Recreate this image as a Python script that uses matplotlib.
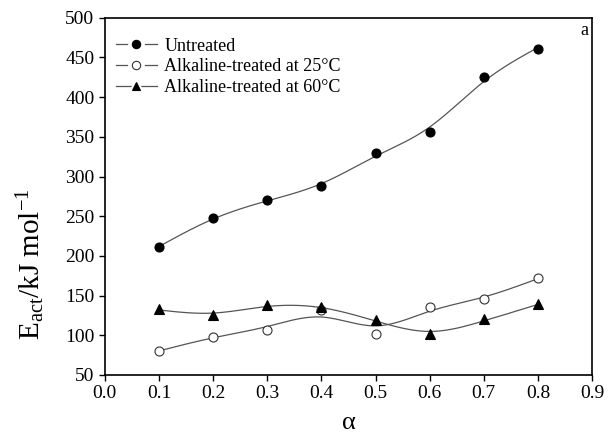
import numpy as np
import matplotlib.pyplot as plt
from matplotlib.lines import Line2D

plt.rcParams['font.family'] = ['Liberation Serif', 'DejaVu Serif']
plt.rcParams['mathtext.fontset'] = 'custom'
plt.rcParams['mathtext.rm'] = 'Liberation Serif'
plt.rcParams['mathtext.it'] = 'Liberation Serif'

alpha = [0.1, 0.2, 0.3, 0.4, 0.5, 0.6, 0.7, 0.8]
untreated = [211, 248, 270, 288, 330, 356, 425, 461]
treated_25 = [80, 98, 107, 132, 102, 136, 146, 172]
treated_60 = [133, 125, 138, 136, 119, 101, 120, 139]


def smooth_spline(x, y, lam):
    # Reinsch smoothing spline (natural cubic), evaluated on a fine grid
    x = np.asarray(x, float)
    y = np.asarray(y, float)
    n = len(x)
    h = np.diff(x)
    Q = np.zeros((n, n - 2))
    R = np.zeros((n - 2, n - 2))
    for j in range(1, n - 1):
        Q[j - 1, j - 1] = 1 / h[j - 1]
        Q[j, j - 1] = -1 / h[j - 1] - 1 / h[j]
        Q[j + 1, j - 1] = 1 / h[j]
        R[j - 1, j - 1] = (h[j - 1] + h[j]) / 3
        if j < n - 2:
            R[j - 1, j] = h[j] / 6
            R[j, j - 1] = h[j] / 6
    K = Q @ np.linalg.solve(R, Q.T)
    g = np.linalg.solve(np.eye(n) + lam * K, y)
    gam = np.linalg.solve(R, Q.T @ g)
    M = np.concatenate([[0], gam, [0]])
    xs = np.linspace(x[0], x[-1], 300)
    ys = np.empty_like(xs)
    for k, xv in enumerate(xs):
        i = min(np.searchsorted(x, xv, side='right') - 1, n - 2)
        hi = h[i]
        a = x[i + 1] - xv
        b = xv - x[i]
        ys[k] = (M[i] * a**3 / (6 * hi) + M[i + 1] * b**3 / (6 * hi)
                 + (g[i] - M[i] * hi**2 / 6) * a / hi
                 + (g[i + 1] - M[i + 1] * hi**2 / 6) * b / hi)
    return xs, ys


fig = plt.figure(figsize=(6.13, 4.34), dpi=100)
ax = fig.add_axes([0.171, 0.136, 0.795, 0.823])

line_c = '#555555'
series = [
    (untreated, dict(marker='o', mfc='black', mec='black'), 'Untreated'),
    (treated_25, dict(marker='o', mfc='white', mec='#333333'), 'Alkaline-treated at 25°C'),
    (treated_60, dict(marker='^', mfc='black', mec='black'), 'Alkaline-treated at 60°C'),
]
handles, labels = [], []
for vals, mk, lab in series:
    xs, ys = smooth_spline(alpha, vals, 5e-5)
    ax.plot(xs, ys, color=line_c, lw=0.9, zorder=1)
    ax.plot(alpha, vals, ls='none', ms=6.5, mew=0.8, zorder=2, **mk)
    seg = Line2D([], [], color=line_c, lw=0.9)
    gap = Line2D([], [], ls='none', marker=mk['marker'], ms=11, mfc='white', mec='white')
    mrk = Line2D([], [], ls='none', ms=6, mew=0.8, **mk)
    handles.append((seg, gap, mrk))
    labels.append(lab)

ax.set_xlim(0, 0.9)
ax.set_ylim(50, 500)
ax.set_xticks(np.arange(0, 0.91, 0.1))
ax.set_xticklabels([f'{v:.1f}' for v in np.arange(0, 0.91, 0.1)])
ax.set_yticks(range(50, 501, 50))
ax.tick_params(direction='out', length=4, width=1, labelsize=14, top=False, right=False)
for s in ax.spines.values():
    s.set_linewidth(1.2)

ax.set_xlabel('α', fontsize=19, labelpad=7)
ax.set_ylabel(r'E$_{\mathrm{act}}$/kJ mol$^{-1}$', fontsize=21)
ax.yaxis.set_label_coords(-0.118, 0.31)
ax.text(0.893, 484, 'a', fontsize=13, ha='right', va='center')

ax.legend(handles, labels, loc='upper left', frameon=False, fontsize=13,
          handlelength=2.3, handletextpad=0.4, labelspacing=0.2,
          borderaxespad=0.6, bbox_to_anchor=(-0.015, 0.995))

fig.savefig('out.png', dpi=100)
